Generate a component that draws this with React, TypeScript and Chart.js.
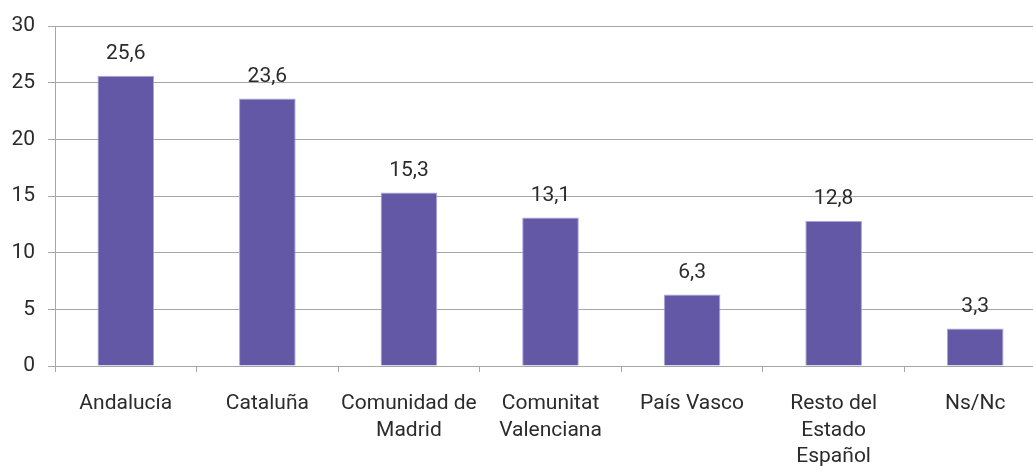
import React, { useEffect, useRef } from "react";
import { Chart, registerables } from "chart.js";

Chart.register(...registerables);

const categories: string[][] = [
  ["Andalucía"],
  ["Cataluña"],
  ["Comunidad de", "Madrid"],
  ["Comunitat", "Valenciana"],
  ["País Vasco"],
  ["Resto del", "Estado", "Español"],
  ["Ns/Nc"],
];
const values: number[] = [25.6, 23.6, 15.3, 13.1, 6.3, 12.8, 3.3];
const yTicks: number[] = [0, 5, 10, 15, 20, 25, 30];

const FONT = "Roboto";
const TEXT = "#2b2b2b";
const GRID = "#a6a6a6";

const valueLabels = {
  id: "valueLabels",
  afterDatasetsDraw(chart: any) {
    const ctx = chart.ctx;
    const meta = chart.getDatasetMeta(0);
    ctx.save();
    ctx.font = `21px ${FONT}`;
    ctx.fillStyle = TEXT;
    ctx.textAlign = "center";
    ctx.textBaseline = "middle";
    meta.data.forEach((el: any, i: number) => {
      const txt = values[i].toFixed(1).replace(".", ",");
      ctx.fillText(txt, el.x, el.y - 22);
    });
    ctx.restore();
  },
};

export default function App() {
  const ref = useRef<HTMLCanvasElement | null>(null);
  useEffect(() => {
    if (!ref.current) return;
    const chart = new Chart(ref.current, {
      type: "bar",
      data: {
        labels: categories,
        datasets: [
          {
            data: values,
            backgroundColor: "#6358a6",
            borderColor: "#aaa4d8",
            borderWidth: 1,
            categoryPercentage: 1,
            barPercentage: 0.4,
          },
        ],
      },
      options: {
        animation: false,
        responsive: true,
        maintainAspectRatio: false,
        layout: { padding: { top: 26, left: 0, right: 1, bottom: 0 } },
        plugins: {
          legend: { display: false },
          tooltip: { enabled: false },
        },
        scales: {
          x: {
            grid: {
              offset: true,
              drawOnChartArea: false,
              drawTicks: true,
              tickLength: 6,
              color: GRID,
            },
            border: { display: true, color: GRID },
            ticks: {
              color: TEXT,
              font: { family: FONT, size: 21, weight: 400, lineHeight: 1.25 },
              padding: 19,
              maxRotation: 0,
              autoSkip: false,
            },
            afterFit: (s: any) => {
              s.height = 100;
            },
          },
          y: {
            min: 0,
            max: 30,
            afterBuildTicks: (s: any) => {
              s.ticks = yTicks.map((v) => ({ value: v }));
            },
            grid: { color: GRID, tickLength: 7 },
            border: { display: true, color: GRID },
            ticks: {
              color: TEXT,
              font: { family: FONT, size: 21, weight: 400 },
              padding: 13,
            },
            afterFit: (s: any) => {
              s.width = 55;
            },
          },
        },
      },
      plugins: [valueLabels],
    });
    return () => chart.destroy();
  }, []);
  return (
    <div
      style={{
        position: "fixed",
        left: 0,
        top: 0,
        width: 1047,
        height: 466,
        background: "#fff",
      }}
    >
      <canvas ref={ref} />
    </div>
  );
}
